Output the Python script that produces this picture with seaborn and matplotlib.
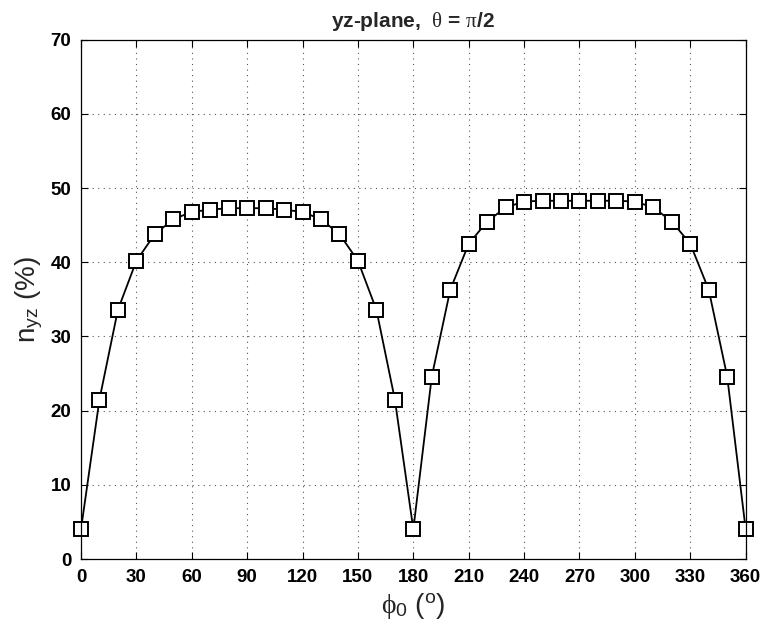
import matplotlib

matplotlib.use("Agg")

import matplotlib.pyplot as plt
import numpy as np
import pandas as pd
import seaborn as sns

PHI0 = list(range(0, 361, 10))
N_YZ = [
    4.0, 21.5, 33.6, 40.2, 43.8, 45.8, 46.8, 47.1, 47.3, 47.3,
    47.3, 47.1, 46.8, 45.8, 43.8, 40.2, 33.6, 21.5, 4.0,
    24.6, 36.3, 42.5, 45.5, 47.4, 48.2, 48.3, 48.3, 48.3, 48.3,
    48.3, 48.2, 47.4, 45.5, 42.5, 36.3, 24.6, 4.0,
]
X_TICKS = list(range(0, 361, 30))
Y_TICKS = list(range(0, 71, 10))

sns.set_theme(style="white")
plt.rcParams["font.family"] = ["Liberation Sans", "DejaVu Sans"]
plt.rcParams["mathtext.fontset"] = "custom"
plt.rcParams["mathtext.rm"] = "Liberation Sans"
plt.rcParams["mathtext.it"] = "Liberation Serif"
plt.rcParams["mathtext.bf"] = "Liberation Sans:bold"

df = pd.DataFrame({"phi0": PHI0, "nyz": N_YZ})

fig = plt.figure(figsize=(7.64, 6.32), dpi=100)
ax = fig.add_axes([0.106, 0.1155, 0.870, 0.8215])

sns.lineplot(
    data=df, x="phi0", y="nyz", ax=ax, color="black", linewidth=1.3,
    marker="s", markersize=9.5, markerfacecolor="white",
    markeredgecolor="black", markeredgewidth=1.4,
)
for line in ax.lines:
    line.set_clip_on(False)

ax.set_xlim(0, 360)
ax.set_ylim(0, 70)
ax.set_xticks(X_TICKS)
ax.set_yticks(Y_TICKS)
ax.tick_params(direction="in", length=5, width=0.8, colors="black",
               labelsize=13.5, pad=7, top=True, right=True, bottom=True, left=True,
               labeltop=False, labelright=False)
for lab in ax.get_xticklabels() + ax.get_yticklabels():
    lab.set_fontweight("bold")
ax.grid(True, linestyle=(0, (1, 4)), color="#555555", linewidth=0.8)
for s in ax.spines.values():
    s.set_color("black")
    s.set_linewidth(0.9)

ax.set_title(r"yz-plane,  $\theta$ = $\pi$/2", fontsize=15, fontweight="bold", pad=9)
ax.set_xlabel(r"$\phi_0$ ($^{\mathrm{o}}$)", fontsize=20, labelpad=4)
ax.set_ylabel(r"n$_{\mathrm{yz}}$ (%)", fontsize=20, labelpad=4)

fig.savefig("out.png", dpi=100)
plt.close(fig)
